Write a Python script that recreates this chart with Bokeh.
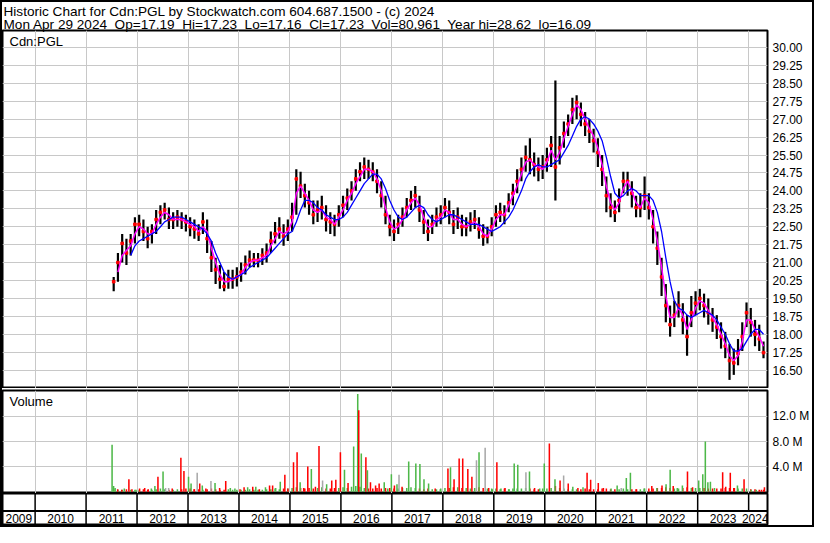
from bokeh.plotting import figure
from bokeh.layouts import column
from bokeh.models import (Range1d, FixedTicker, Grid, Label, Title, Span,
                          PrintfTickFormatter, ColumnDataSource)
from bokeh.embed import file_html
from bokeh.resources import INLINE

FONT = "Liberation Sans"

# ---------------- data ----------------
header_line1 = "Historic Chart for Cdn:PGL by Stockwatch.com 604.687.1500 - (c) 2024"
header_line2 = "Mon Apr 29 2024  Op=17.19  Hi=17.23  Lo=17.16  Cl=17.23  Vol=80,961  Year hi=28.62  lo=16.09"
symbol = "Cdn:PGL"

# monthly bars, Jul 2011 .. Apr 2024
bar_start = (2011, 7)
close = [20.2, 21.0, 21.8, 21.4, 21.9, 22.6,
         22.6, 22.3, 22.0, 22.3, 22.8, 23.1, 23.2, 22.8, 22.8, 22.9, 22.8, 22.7,
         22.5, 22.4, 22.2, 22.7, 22.0, 21.2, 20.7, 20.3, 20.0, 20.3, 20.3, 20.4,
         20.6, 20.9, 21.1, 21.1, 21.1, 21.3, 21.4, 21.9, 22.2, 22.4, 22.1, 22.4,
         22.9, 24.5, 24.2, 23.8, 23.5, 23.0, 23.2, 23.3, 22.8, 22.7, 22.6, 23.0,
         23.4, 23.7, 24.0, 24.5, 24.8, 25.0, 24.9, 24.8, 24.4, 23.8, 23.0, 22.5,
         22.3, 22.6, 22.9, 23.3, 23.6, 23.8, 23.2, 22.7, 22.3, 22.6, 22.9, 23.0,
         23.3, 23.1, 22.6, 22.9, 22.5, 22.5, 22.7, 22.8, 22.4, 22.1, 22.1, 22.5,
         23.0, 23.1, 23.0, 23.5, 23.9, 24.4, 24.9, 25.4, 25.3, 25.1, 24.9, 25.0,
         25.3, 25.9, 25.0, 25.8, 26.4, 26.8, 27.4, 27.7, 27.2, 26.8, 26.5, 26.1,
         25.6, 24.9, 23.8, 23.3, 23.1, 23.6, 24.4, 24.4, 23.9, 23.3, 23.3, 23.8,
         23.3, 22.5, 21.6, 20.4, 19.2, 18.4, 18.8, 19.2, 18.6, 17.9, 18.9, 19.3,
         19.5, 19.2, 18.9, 18.6, 18.3, 17.9, 17.5, 16.9, 16.8, 17.2, 17.9, 18.9,
         18.5, 18.0, 17.8, 17.23]
high = [20.4, 21.4, 22.2, 22.0, 22.2, 22.9,
        23.0, 22.8, 22.5, 22.6, 23.2, 23.4, 23.5, 23.3, 23.1, 23.2, 23.1, 23.0,
        22.9, 22.8, 22.6, 23.1, 22.8, 21.9, 21.2, 20.9, 20.6, 20.7, 20.7, 20.8,
        21.0, 21.3, 21.5, 21.4, 21.4, 21.6, 21.8, 22.3, 22.7, 22.9, 22.6, 22.8,
        23.5, 24.9, 24.8, 24.3, 24.0, 23.6, 23.6, 23.8, 23.4, 23.1, 23.0, 23.4,
        23.8, 24.1, 24.4, 24.9, 25.2, 25.4, 25.3, 25.2, 24.9, 24.4, 23.8, 23.0,
        22.8, 23.0, 23.3, 23.7, 24.0, 24.2, 23.8, 23.2, 22.8, 23.0, 23.3, 23.4,
        23.7, 23.6, 23.2, 23.3, 23.0, 22.9, 23.1, 23.2, 22.9, 22.6, 22.5, 22.9,
        23.4, 23.5, 23.4, 23.9, 24.3, 24.9, 25.4, 25.9, 26.2, 25.6, 25.4, 25.5,
        25.8, 26.3, 28.62, 26.3, 26.9, 27.2, 27.9, 28.0, 27.7, 27.3, 27.0, 26.6,
        26.2, 25.5, 24.6, 23.9, 23.6, 24.1, 24.8, 24.8, 24.4, 23.8, 23.9, 24.6,
        23.9, 23.2, 22.3, 21.2, 20.1, 19.2, 19.4, 19.8, 19.3, 18.8, 19.6, 19.8,
        19.9, 19.7, 19.5, 19.1, 18.8, 18.5, 18.1, 17.6, 17.4, 17.8, 18.5, 19.33,
        19.1, 18.6, 18.4, 17.7]
low = [19.8, 20.2, 21.0, 20.9, 21.3, 21.8,
       22.1, 21.9, 21.6, 21.8, 22.2, 22.6, 22.8, 22.4, 22.4, 22.5, 22.4, 22.3,
       22.1, 22.0, 21.9, 22.2, 21.4, 20.6, 20.1, 19.9, 19.8, 19.9, 19.9, 20.0,
       20.2, 20.5, 20.8, 20.8, 20.8, 20.9, 21.0, 21.4, 21.8, 22.0, 21.7, 21.9,
       22.3, 23.0, 23.7, 23.3, 23.0, 22.6, 22.7, 22.8, 22.3, 22.2, 22.1, 22.5,
       22.9, 23.2, 23.6, 24.0, 24.4, 24.5, 24.5, 24.4, 23.9, 23.3, 22.6, 22.1,
       21.9, 22.2, 22.5, 22.9, 23.2, 23.3, 22.7, 22.2, 21.9, 22.2, 22.5, 22.6,
       22.9, 22.6, 22.2, 22.4, 22.1, 22.1, 22.3, 22.4, 22.0, 21.7, 21.8, 22.1,
       22.5, 22.7, 22.6, 23.1, 23.4, 23.9, 24.4, 24.8, 24.7, 24.6, 24.4, 24.5,
       24.8, 25.0, 23.6, 25.1, 25.8, 26.3, 26.8, 27.0, 26.7, 26.3, 26.0, 25.6,
       25.0, 24.2, 23.1, 22.9, 22.7, 23.1, 23.9, 23.8, 23.3, 22.9, 22.9, 23.2,
       22.8, 21.8, 20.9, 19.6, 18.5, 17.9, 18.3, 18.7, 18.0, 17.1, 18.3, 18.8,
       19.0, 18.7, 18.4, 18.1, 17.8, 17.4, 17.0, 16.09, 16.3, 16.7, 17.3, 18.3,
       17.9, 17.5, 17.3, 17.0]

# short moving average (magenta), monthly from Aug 2011
mag_start = (2011, 8)
mag = [20.6, 21.3, 21.5, 21.7, 22.2,
       22.5, 22.4, 22.2, 22.2, 22.6, 22.9, 23.1, 23.0, 22.8, 22.8, 22.8, 22.7,
       22.6, 22.5, 22.3, 22.5, 22.3, 21.6, 21.0, 20.5, 20.2, 20.2, 20.3, 20.4,
       20.5, 20.8, 21.0, 21.1, 21.1, 21.2, 21.3, 21.7, 22.0, 22.3, 22.2, 22.3,
       22.7, 23.9, 24.2, 23.9, 23.6, 23.2, 23.1, 23.2, 22.9, 22.8, 22.6, 22.9,
       23.2, 23.6, 23.9, 24.3, 24.6, 24.9, 24.9, 24.8, 24.5, 24.0, 23.3, 22.7,
       22.4, 22.5, 22.8, 23.2, 23.5, 23.7, 23.4, 22.9, 22.5, 22.5, 22.8, 22.9,
       23.2, 23.1, 22.8, 22.8, 22.6, 22.5, 22.6, 22.7, 22.5, 22.2, 22.1, 22.4,
       22.8, 23.0, 23.0, 23.4, 23.8, 24.2, 24.7, 25.2, 25.3, 25.1, 25.0, 24.9,
       25.2, 25.7, 25.3, 25.6, 26.2, 26.7, 27.2, 27.6, 27.4, 27.0, 26.6, 26.3,
       25.8, 25.1, 24.2, 23.5, 23.2, 23.5, 24.1, 24.4, 24.0, 23.5, 23.3, 23.7,
       23.5, 22.8, 21.9, 20.8, 19.6, 18.7, 18.7, 19.1, 18.8, 18.2, 18.6, 19.1,
       19.4, 19.3, 19.0, 18.7, 18.4, 18.0, 17.6, 17.1, 16.9, 17.1, 17.7, 18.6,
       18.6, 18.2, 17.9, 17.5]

# long moving average (blue), monthly from Nov 2011
blue_start = (2011, 11)
blue = [21.3, 21.7,
        21.9, 22.0, 22.1, 22.2, 22.3, 22.5, 22.7, 22.8, 22.9, 22.9, 22.9, 22.8,
        22.7, 22.6, 22.5, 22.4, 22.2, 21.9, 21.4, 21.0, 20.6, 20.4, 20.3, 20.4,
        20.5, 20.6, 20.8, 20.9, 21.0, 21.1, 21.2, 21.4, 21.6, 21.8, 22.0, 22.2,
        22.3, 22.7, 23.2, 23.6, 23.6, 23.5, 23.3, 23.2, 23.0, 22.9, 22.8, 22.8,
        22.9, 23.1, 23.4, 23.7, 24.0, 24.3, 24.5, 24.7, 24.7, 24.5, 24.1, 23.6,
        23.2, 22.9, 22.8, 22.9, 23.1, 23.3, 23.4, 23.3, 23.0, 22.8, 22.7, 22.8,
        22.9, 23.0, 23.0, 22.9, 22.8, 22.7, 22.6, 22.6, 22.6, 22.5, 22.4, 22.3,
        22.4, 22.5, 22.7, 22.9, 23.2, 23.6, 24.0, 24.5, 24.8, 25.0, 25.1, 25.0,
        25.0, 25.1, 25.2, 25.3, 25.6, 25.9, 26.3, 26.7, 27.0, 27.1, 27.0, 26.8,
        26.5, 26.1, 25.4, 24.6, 23.9, 23.7, 23.8, 24.0, 24.1, 24.0, 23.8, 23.8,
        23.8, 23.6, 23.1, 22.3, 21.2, 20.2, 19.4, 19.1, 19.0, 18.8, 18.7, 18.8,
        18.9, 19.0, 18.9, 18.8, 18.6, 18.3, 18.0, 17.6, 17.3, 17.3, 17.4, 17.7,
        18.0, 18.2, 18.2, 18.0]

# background (typical) monthly volume in millions, Jul 2011 .. Apr 2024
vol_base = [0.4, 0.3, 0.3, 0.4, 0.3, 0.3,
            0.3, 0.4, 0.3, 0.3, 0.4, 0.5, 0.4, 0.3, 0.3, 0.4, 0.4, 0.5,
            0.5, 0.4, 0.4, 0.3, 0.4, 0.5, 0.4, 0.3, 0.3, 0.4, 0.3, 0.3,
            0.3, 0.3, 0.4, 0.3, 0.3, 0.3, 0.4, 0.4, 0.5, 0.4, 0.5, 0.5,
            0.6, 0.7, 0.6, 0.5, 0.6, 0.5, 0.6, 0.7, 0.5, 0.5, 0.6, 0.6,
            0.7, 0.6, 0.8, 0.9, 0.8, 0.6, 0.5, 0.5, 0.6, 0.5, 0.6, 0.6,
            0.5, 0.5, 0.6, 0.6, 0.7, 0.6, 0.5, 0.4, 0.5, 0.4, 0.4, 0.5,
            0.6, 0.6, 0.7, 0.7, 0.6, 0.6, 0.5, 0.6, 0.7, 0.6, 0.5, 0.5,
            0.5, 0.4, 0.5, 0.4, 0.5, 0.5, 0.5, 0.6, 0.5, 0.4, 0.4, 0.5,
            0.5, 0.6, 0.9, 0.6, 0.5, 0.4, 0.4, 0.4, 0.4, 0.5, 0.4, 0.4,
            0.4, 0.5, 0.5, 0.4, 0.4, 0.4, 0.5, 0.4, 0.4, 0.4, 0.4, 0.5,
            0.5, 0.5, 0.6, 0.6, 0.7, 0.6, 0.5, 0.5, 0.6, 0.7, 0.6, 0.6,
            0.6, 0.6, 0.5, 0.5, 0.5, 0.5, 0.6, 0.6, 0.6, 0.5, 0.5, 0.5,
            0.4, 0.4, 0.3, 0.3]

# notable volume bars (millions), time in decimal years, direction: u=up, d=down, n=unchanged
vol_when = [2011.51, 2011.54, 2011.57, 2011.62, 2011.70, 2011.75, 2011.84, 2011.90, 2011.98,
            2012.05, 2012.15, 2012.22, 2012.28, 2012.35, 2012.41, 2012.51, 2012.56, 2012.62, 2012.69, 2012.86, 2012.92,
            2013.01, 2013.06, 2013.12, 2013.18, 2013.23, 2013.28, 2013.35, 2013.45, 2013.53, 2013.62, 2013.74, 2013.83, 2013.92,
            2014.02, 2014.10, 2014.17, 2014.27, 2014.33, 2014.40, 2014.52, 2014.60, 2014.66, 2014.72, 2014.81, 2014.90, 2014.96,
            2015.07, 2015.14, 2015.20, 2015.27, 2015.35, 2015.42, 2015.50, 2015.57, 2015.64, 2015.72, 2015.82, 2015.90,
            2015.99, 2016.07, 2016.14, 2016.25, 2016.33, 2016.35, 2016.40, 2016.49, 2016.52, 2016.58, 2016.68, 2016.75, 2016.85, 2016.92,
            2016.99, 2017.05, 2017.10, 2017.14, 2017.20, 2017.33, 2017.47, 2017.55, 2017.63, 2017.72, 2017.85, 2017.95,
            2018.10, 2018.15, 2018.22, 2018.32, 2018.39, 2018.49, 2018.57, 2018.66, 2018.71, 2018.83, 2018.90, 2018.97,
            2019.06, 2019.14, 2019.22, 2019.30, 2019.40, 2019.47, 2019.63, 2019.70, 2019.80, 2019.90,
            2019.99, 2020.09, 2020.20, 2020.30, 2020.37, 2020.46, 2020.55, 2020.65, 2020.75, 2020.83, 2020.90,
            2021.05, 2021.15, 2021.30, 2021.42, 2021.50, 2021.60, 2021.68, 2021.80, 2021.95,
            2022.10, 2022.20, 2022.30, 2022.38, 2022.46, 2022.52, 2022.60, 2022.70, 2022.80, 2022.90,
            2023.02, 2023.10, 2023.15, 2023.20, 2023.25, 2023.33, 2023.49, 2023.55, 2023.64, 2023.72, 2023.78, 2023.91,
            2024.05, 2024.15, 2024.25, 2024.31]
vol_m = [7.5, 0.9, 0.6, 0.4, 0.3, 0.5, 2.0, 0.4, 0.3,
         0.5, 0.6, 0.4, 0.5, 0.9, 2.4, 3.2, 0.6, 0.6, 0.5, 5.4, 3.3,
         2.4, 1.3, 0.4, 3.0, 1.3, 1.0, 0.5, 1.7, 1.4, 0.6, 1.7, 0.6, 0.5,
         0.4, 0.7, 0.7, 0.8, 0.8, 0.4, 0.7, 1.0, 1.0, 0.6, 1.6, 2.7, 0.5,
         4.7, 6.3, 1.5, 0.6, 4.0, 3.6, 0.8, 7.3, 1.8, 1.2, 1.8, 1.9,
         6.3, 3.5, 1.4, 7.2, 15.6, 13.0, 6.1, 5.5, 3.4, 1.5, 1.0, 1.3, 1.5, 0.5,
         2.8, 1.0, 1.2, 2.7, 0.8, 4.8, 4.5, 4.4, 2.0, 1.3, 0.5, 0.4,
         3.7, 3.9, 2.0, 5.3, 5.3, 3.6, 2.4, 5.0, 6.3, 7.0, 0.6, 0.4,
         4.7, 0.5, 0.6, 0.4, 4.5, 4.3, 3.1, 3.2, 0.6, 0.5,
         4.5, 7.7, 2.0, 1.8, 2.6, 1.3, 0.8, 0.6, 0.7, 3.0, 1.9,
         1.4, 0.6, 0.5, 1.0, 0.6, 2.2, 3.0, 0.4, 0.5,
         0.9, 0.6, 1.0, 1.2, 3.5, 0.9, 0.6, 1.0, 3.2, 0.7,
         1.8, 2.8, 8.0, 1.5, 1.6, 0.6, 3.1, 0.8, 3.0, 0.6, 1.0, 2.0,
         0.3, 0.3, 0.3, 0.7]
vol_dir = ["u", "u", "u", "d", "d", "u", "d", "d", "u",
           "d", "d", "d", "u", "u", "d", "u", "n", "n", "d", "d", "d",
           "u", "u", "d", "n", "d", "u", "d", "n", "u", "d", "d", "u", "u",
           "d", "d", "u", "d", "u", "d", "u", "d", "d", "u", "u", "d", "d",
           "d", "d", "u", "d", "d", "u", "d", "d", "n", "u", "d", "d",
           "d", "u", "d", "u", "u", "d", "u", "d", "u", "d", "d", "d", "u", "u",
           "u", "d", "u", "n", "d", "u", "u", "u", "u", "u", "d", "u",
           "d", "u", "d", "d", "d", "d", "d", "n", "u", "n", "d", "u",
           "d", "u", "d", "u", "u", "u", "n", "u", "d", "u",
           "u", "d", "u", "d", "n", "d", "u", "d", "u", "d", "d",
           "d", "d", "u", "u", "n", "u", "u", "d", "u",
           "d", "u", "d", "u", "u", "d", "u", "u", "d", "d",
           "u", "u", "u", "u", "u", "u", "d", "d", "d", "d", "u", "d",
           "u", "u", "d", "d"]

years = list(range(2009, 2025))
price_ticks = [16.50, 17.25, 18.00, 18.75, 19.50, 20.25, 21.00, 21.75, 22.50,
               23.25, 24.00, 24.75, 25.50, 26.25, 27.00, 27.75, 28.50, 29.25, 30.00]
vol_ticks = [4.0, 8.0, 12.0]

# ---------------- helpers ----------------
def month_positions(start, n):
    y, m = start
    return [y + (m - 1 + i) / 12.0 + 1 / 24.0 for i in range(n)]

t_bar = month_positions(bar_start, len(close))
t_mag = month_positions(mag_start, len(mag))
t_blue = month_positions(blue_start, len(blue))

X0, X1 = 2009.36, 2024.37
W = 810
RIGHT = 45
GRID = "#c8c8c8"
UP, DOWN, FLAT = "#4db848", "#ff0000", "#a8a8a8"
dir_color = {"u": UP, "d": DOWN, "n": FLAT}

def keep_spaces(s):
    return s.replace("  ", "\u00a0 ")

def strip_grids(p):
    p.center = [r for r in p.center if not isinstance(r, Grid)]

def style_right_axis(ax, ticks, fmt):
    ax.ticker = FixedTicker(ticks=ticks)
    ax.formatter = PrintfTickFormatter(format=fmt)
    ax.axis_line_color = None
    ax.major_tick_line_color = None
    ax.minor_tick_line_color = None
    ax.major_tick_out = 0
    ax.major_tick_in = 0
    ax.major_label_standoff = 5
    ax.major_label_text_font = FONT
    ax.major_label_text_font_size = "12px"
    ax.major_label_text_color = "black"

xr = Range1d(X0, X1)

# ---------------- price panel ----------------
title = Title(text=header_line1 + "\n" + keep_spaces(header_line2), align="left",
              text_font=FONT, text_font_size="13.6px", text_font_style="normal",
              text_color="black", text_line_height=0.92, standoff=-4, offset=1)
p1 = figure(width=W, height=386, x_range=xr, y_range=Range1d(15.73, 30.71),
            x_axis_location=None, y_axis_location="right", title=title,
            output_backend="svg", toolbar_location=None,
            min_border_left=0, min_border_right=RIGHT, min_border_top=28, min_border_bottom=0)
strip_grids(p1)
p1.add_layout(Grid(dimension=0, ticker=FixedTicker(ticks=years[1:]), grid_line_color=GRID))
p1.add_layout(Grid(dimension=1, ticker=FixedTicker(ticks=price_ticks), grid_line_color=GRID))
style_right_axis(p1.yaxis[0], price_ticks, "%.2f")
p1.outline_line_color = "black"
p1.outline_line_width = 2
p1.outline_line_alpha = 1

src = ColumnDataSource(dict(t=t_bar, hi=high, lo=low, cl=close))
p1.segment(x0="t", y0="lo", x1="t", y1="hi", source=src, line_color="black", line_width=2.2)
p1.scatter(x="t", y="cl", source=src, marker="square", size=2.6, color="#ff0000")
p1.line(t_mag, mag, line_color="#ff00ff", line_width=1.5)
p1.line(t_blue, blue, line_color="#0000ff", line_width=1.3)
p1.add_layout(Label(x=X0, y=30.71, x_offset=7, y_offset=-3, text=symbol,
                    text_baseline="top", text_font=FONT, text_font_size="13px",
                    text_color="black"))

# ---------------- volume panel ----------------
p2 = figure(width=W, height=105, x_range=xr, y_range=Range1d(-0.29, 16.14),
            x_axis_location=None, y_axis_location="right",
            output_backend="svg", toolbar_location=None,
            min_border_left=0, min_border_right=RIGHT, min_border_top=2, min_border_bottom=0)
strip_grids(p2)
p2.add_layout(Grid(dimension=0, ticker=FixedTicker(ticks=years[1:]), grid_line_color=GRID))
p2.add_layout(Grid(dimension=1, ticker=FixedTicker(ticks=vol_ticks), grid_line_color=GRID))
style_right_axis(p2.yaxis[0], vol_ticks, "%.1f M")
p2.outline_line_color = "black"
p2.outline_line_width = 2
base_col = [UP if i == 0 or close[i] >= close[i - 1] else DOWN for i in range(len(close))]
bsrc = ColumnDataSource(dict(t=t_bar, v=vol_base, c=base_col))
p2.vbar(x="t", top="v", bottom=0, width=0.03, source=bsrc, fill_color="c", line_color=None)
vsrc = ColumnDataSource(dict(t=vol_when, v=vol_m, c=[dir_color[d] for d in vol_dir]))
p2.vbar(x="t", top="v", bottom=0, width=0.03, source=vsrc, fill_color="c", line_color=None)
p2.add_layout(Label(x=X0, y=16.14, x_offset=7, y_offset=-3.5, text="Volume",
                    text_baseline="top", text_font=FONT, text_font_size="13px",
                    text_color="black"))

# ---------------- year strip ----------------
p3 = figure(width=W, height=32, x_range=xr, y_range=Range1d(0, 2),
            x_axis_location=None, y_axis_location=None,
            output_backend="svg", toolbar_location=None,
            min_border_left=0, min_border_right=RIGHT, min_border_top=0, min_border_bottom=0)
strip_grids(p3)
p3.outline_line_color = "black"
p3.outline_line_width = 2
MID = 0.9
top_sep = years[1:]
bot_sep = years[1:-1]
p3.segment(x0=top_sep, y0=[MID] * len(top_sep), x1=top_sep, y1=[2] * len(top_sep),
           line_color="black", line_width=1.5)
p3.segment(x0=bot_sep, y0=[0] * len(bot_sep), x1=bot_sep, y1=[MID] * len(bot_sep),
           line_color="black", line_width=1.5)
p3.add_layout(Span(location=MID, dimension="width", line_color="black", line_width=2))
mids = [min((max(y, X0) + min(y + 1, X1)) / 2, X1 - 0.24) for y in years]
p3.text(x=mids, y=[MID / 2] * len(years), text=[str(y) for y in years],
        text_align="center", text_baseline="middle", text_font_size="12px",
        text_font={"value": FONT}, text_color="black")

layout = column(p1, p2, p3, spacing=0, styles={"border": "2px solid black"})

open("out.html", "w").write(file_html(layout, INLINE))
